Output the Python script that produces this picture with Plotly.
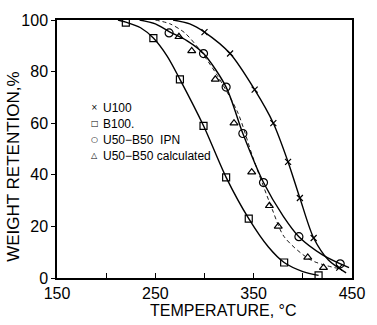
import plotly.graph_objects as go

# Measured points: temperature (°C) and weight retention (%)
u100_T = [300, 326, 351, 370, 385, 397, 411, 437]
u100_W = [95.3, 87, 73, 60, 45, 31, 15.5, 4]

b100_T = [220, 248, 275, 299, 322, 345, 381, 416]
b100_W = [99, 93, 77, 59, 39, 23, 6, 1]

ipn_T = [264, 299, 322, 339, 360, 396, 438]
ipn_W = [95, 87, 74, 56, 37, 16, 5.5]

calc_T = [274, 287, 311, 330, 348, 366, 375, 405, 421]
calc_W = [93.5, 88, 77, 60, 41, 28, 20, 8, 4]

# Smooth guide curves drawn through each series
u100_curve_T = [268, 285, 300, 326, 351, 370, 385, 397, 411, 426, 444]
u100_curve_W = [100, 98.5, 95.3, 87, 73, 60, 45, 31, 15.5, 7, 2]

b100_curve_T = [212, 220, 235, 248, 262, 275, 299, 322, 345, 365, 381, 400, 416]
b100_curve_W = [100, 99.2, 97, 93, 86, 77, 59, 39, 23, 12, 6, 2.5, 1]

ipn_curve_T = [234, 250, 264, 282, 299, 322, 339, 360, 380, 396, 420, 447]
ipn_curve_W = [100, 98.5, 95.5, 92, 87, 74, 56, 37, 24, 16, 9, 4]

calc_curve_T = [250, 265, 280, 295, 313, 334, 349, 369, 381, 408, 438]
calc_curve_W = [100, 98.5, 95, 88.5, 78.5, 64, 47, 26.5, 16, 7, 3.5]

legend_symbols = ["×", "□", "○", "△"]
legend_labels = ["U100", "B100.", "U50−B50  IPN", "U50−B50 calculated"]

x_tickvals = [150, 200, 250, 300, 350, 400, 450]
x_ticktext = ["150", "", "250", "", "350", "", "450"]
y_tickvals = [0, 20, 40, 60, 80, 100]

FONT = "Liberation Sans"
INK = "black"

fig = go.Figure()

curves = [
    (u100_curve_T, u100_curve_W, "solid", 1.4),
    (b100_curve_T, b100_curve_W, "solid", 1.4),
    (ipn_curve_T, ipn_curve_W, "solid", 1.4),
    (calc_curve_T, calc_curve_W, "4px,3px", 0.9),
]
for t, w, dash, lw in curves:
    fig.add_trace(go.Scatter(
        x=t, y=w, mode="lines", showlegend=False, hoverinfo="skip",
        line=dict(color=INK, width=lw, dash=dash, shape="spline", smoothing=0.8),
    ))

points = [
    (u100_T, u100_W, "x-thin-open", 6),
    (b100_T, b100_W, "square-open", 7),
    (ipn_T, ipn_W, "circle-open", 8),
    (calc_T, calc_W, "triangle-up-open", 7),
]
for t, w, sym, size in points:
    fig.add_trace(go.Scatter(
        x=t, y=w, mode="markers", showlegend=False,
        marker=dict(symbol=sym, size=size, color=INK,
                    line=dict(color=INK, width=1.2)),
    ))

# Key drawn as text lines inside the plot
for i, (sym, lab) in enumerate(zip(legend_symbols, legend_labels)):
    y = 0.659 - i * 0.062
    fig.add_annotation(
        xref="paper", yref="paper", x=0.128, y=y,
        xanchor="center", yanchor="middle", showarrow=False,
        text=sym, font=dict(family="DejaVu Sans", size=8, color=INK),
    )
    fig.add_annotation(
        xref="paper", yref="paper", x=0.150, y=y,
        xanchor="left", yanchor="middle", showarrow=False,
        text=lab, font=dict(family=FONT, size=12, color=INK),
    )

# Axis titles
fig.add_annotation(
    xref="paper", yref="paper", x=0.565, y=-0.126, xanchor="center", yanchor="middle",
    showarrow=False, text="TEMPERATURE, °C",
    font=dict(family=FONT, size=16, color=INK),
)
fig.add_annotation(
    xref="paper", yref="paper", x=-0.15, y=0.43, xanchor="center", yanchor="middle",
    showarrow=False, text="WEIGHT RETENTION,%", textangle=-90,
    font=dict(family=FONT, size=17, color=INK),
)

fig.update_xaxes(
    range=[150, 450], tickvals=x_tickvals, ticktext=x_ticktext,
    ticks="inside", ticklen=5, tickcolor=INK, tickwidth=1,
    showline=True, linecolor=INK, linewidth=1.5, mirror=True,
    showgrid=False, zeroline=False,
    tickfont=dict(family=FONT, size=16, color=INK),
)
fig.update_yaxes(
    range=[0, 100], tickvals=y_tickvals,
    ticks="outside", ticklen=4, tickcolor=INK, tickwidth=1,
    showline=True, linecolor=INK, linewidth=1.5, mirror=True,
    showgrid=False, zeroline=False,
    tickfont=dict(family=FONT, size=16, color=INK),
)

fig.update_layout(
    width=377, height=325,
    margin=dict(l=57, r=14, t=20, b=47),
    paper_bgcolor="white", plot_bgcolor="white",
    showlegend=False,
)

fig.write_html("out.html")
